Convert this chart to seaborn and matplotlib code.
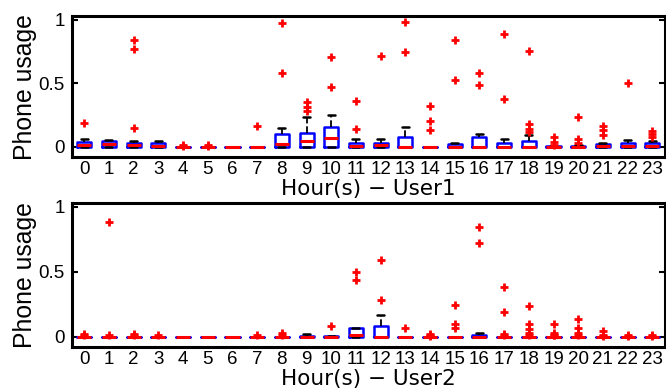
import matplotlib
matplotlib.use("Agg")
import matplotlib.pyplot as plt
import pandas as pd
import seaborn as sns

# Hour of day (x categories) and y tick labels
hours = list(range(24))
ytick_values = [0, 0.5, 1]
ytick_labels = ["0", "0.5", "1"]

# Daily phone-usage fraction observed in each hour, user 1
user1_usage = {
    0: [0, 0, 0, 0, 0, 0, 0.005, 0.01, 0.01, 0.012, 0.015, 0.02, 0.025, 0.03, 0.035, 0.04, 0.045, 0.05, 0.05, 0.06, 0.19],
    1: [0, 0, 0, 0, 0, 0, 0.01, 0.015, 0.02, 0.02, 0.025, 0.03, 0.035, 0.04, 0.045, 0.05, 0.05, 0.05, 0.052, 0.054, 0.055],
    2: [0, 0, 0, 0, 0, 0, 0.003, 0.005, 0.008, 0.01, 0.012, 0.015, 0.02, 0.025, 0.03, 0.035, 0.04, 0.045, 0.15, 0.77, 0.84],
    3: [0, 0, 0, 0, 0, 0, 0.002, 0.004, 0.006, 0.008, 0.01, 0.015, 0.02, 0.025, 0.03, 0.035, 0.038, 0.04, 0.045, 0.048, 0.05],
    4: [0, 0, 0, 0, 0, 0, 0, 0, 0, 0, 0, 0, 0, 0, 0, 0, 0, 0, 0, 0.008, 0.012],
    5: [0, 0, 0, 0, 0, 0, 0, 0, 0, 0, 0, 0, 0, 0, 0, 0, 0, 0, 0, 0.007, 0.012],
    6: [0, 0, 0, 0, 0, 0, 0, 0, 0, 0, 0, 0, 0, 0, 0, 0, 0, 0, 0, 0, 0],
    7: [0, 0, 0, 0, 0, 0, 0, 0, 0, 0, 0, 0, 0, 0, 0, 0, 0, 0, 0, 0, 0.165],
    8: [0, 0, 0, 0, 0, 0, 0.005, 0.01, 0.012, 0.015, 0.02, 0.03, 0.05, 0.07, 0.09, 0.10, 0.12, 0.14, 0.15, 0.585, 0.975],
    9: [0, 0, 0, 0, 0, 0, 0.01, 0.02, 0.03, 0.04, 0.05, 0.06, 0.07, 0.08, 0.1, 0.11, 0.15, 0.235, 0.285, 0.315, 0.35],
    10: [0, 0, 0, 0, 0, 0, 0.01, 0.03, 0.05, 0.06, 0.07, 0.09, 0.11, 0.13, 0.15, 0.16, 0.18, 0.2, 0.25, 0.47, 0.71],
    11: [0, 0, 0, 0, 0, 0, 0.001, 0.002, 0.003, 0.004, 0.005, 0.01, 0.015, 0.02, 0.025, 0.03, 0.035, 0.04, 0.06, 0.14, 0.365],
    12: [0, 0, 0, 0, 0, 0, 0.002, 0.004, 0.006, 0.01, 0.012, 0.015, 0.02, 0.025, 0.03, 0.035, 0.04, 0.045, 0.05, 0.06, 0.715],
    13: [0, 0, 0, 0, 0, 0, 0, 0, 0, 0, 0, 0.01, 0.03, 0.05, 0.07, 0.08, 0.1, 0.12, 0.155, 0.745, 0.98],
    14: [0, 0, 0, 0, 0, 0, 0, 0, 0, 0, 0, 0, 0, 0, 0, 0, 0, 0, 0.13, 0.205, 0.32],
    15: [0, 0, 0, 0, 0, 0, 0, 0, 0, 0, 0, 0.005, 0.01, 0.012, 0.015, 0.02, 0.022, 0.025, 0.03, 0.525, 0.84],
    16: [0, 0, 0, 0, 0, 0, 0, 0, 0, 0, 0, 0.01, 0.03, 0.05, 0.07, 0.08, 0.085, 0.09, 0.1, 0.49, 0.58],
    17: [0, 0, 0, 0, 0, 0, 0, 0, 0, 0, 0, 0.005, 0.01, 0.02, 0.025, 0.03, 0.04, 0.05, 0.065, 0.38, 0.885],
    18: [0, 0, 0, 0, 0, 0, 0, 0, 0, 0, 0, 0.005, 0.015, 0.025, 0.035, 0.045, 0.095, 0.115, 0.145, 0.18, 0.755],
    19: [0, 0, 0, 0, 0, 0, 0, 0, 0, 0, 0, 0.001, 0.002, 0.003, 0.003, 0.004, 0.005, 0.006, 0.012, 0.04, 0.075],
    20: [0, 0, 0, 0, 0, 0, 0, 0, 0, 0, 0, 0.002, 0.004, 0.006, 0.008, 0.01, 0.012, 0.015, 0.035, 0.06, 0.235],
    21: [0, 0, 0, 0, 0, 0, 0.001, 0.002, 0.003, 0.004, 0.005, 0.008, 0.01, 0.015, 0.018, 0.02, 0.025, 0.03, 0.095, 0.13, 0.165],
    22: [0, 0, 0, 0, 0, 0, 0.002, 0.004, 0.006, 0.008, 0.01, 0.015, 0.02, 0.025, 0.03, 0.035, 0.04, 0.045, 0.05, 0.055, 0.505],
    23: [0, 0, 0, 0, 0, 0, 0.002, 0.004, 0.006, 0.008, 0.01, 0.015, 0.02, 0.025, 0.028, 0.03, 0.04, 0.045, 0.08, 0.1, 0.125],
}

# Daily phone-usage fraction observed in each hour, user 2
user2_usage = {
    0: [0, 0, 0, 0, 0, 0, 0, 0, 0, 0, 0, 0, 0, 0, 0, 0, 0, 0, 0, 0.01, 0.02],
    1: [0, 0, 0, 0, 0, 0, 0, 0, 0, 0, 0, 0, 0, 0, 0, 0, 0, 0, 0, 0.01, 0.88],
    2: [0, 0, 0, 0, 0, 0, 0, 0, 0, 0, 0, 0, 0, 0, 0, 0, 0, 0, 0, 0.01, 0.02],
    3: [0, 0, 0, 0, 0, 0, 0, 0, 0, 0, 0, 0, 0, 0, 0, 0, 0, 0, 0, 0, 0.01],
    4: [0, 0, 0, 0, 0, 0, 0, 0, 0, 0, 0, 0, 0, 0, 0, 0, 0, 0, 0, 0, 0],
    5: [0, 0, 0, 0, 0, 0, 0, 0, 0, 0, 0, 0, 0, 0, 0, 0, 0, 0, 0, 0, 0],
    6: [0, 0, 0, 0, 0, 0, 0, 0, 0, 0, 0, 0, 0, 0, 0, 0, 0, 0, 0, 0, 0],
    7: [0, 0, 0, 0, 0, 0, 0, 0, 0, 0, 0, 0, 0, 0, 0, 0, 0, 0, 0, 0, 0.01],
    8: [0, 0, 0, 0, 0, 0, 0, 0, 0, 0, 0, 0, 0, 0, 0, 0, 0, 0, 0, 0.01, 0.025],
    9: [0, 0, 0, 0, 0, 0, 0, 0, 0, 0, 0, 0.002, 0.004, 0.005, 0.006, 0.008, 0.01, 0.015, 0.018, 0.019, 0.02],
    10: [0, 0, 0, 0, 0, 0, 0, 0, 0, 0, 0, 0.001, 0.002, 0.003, 0.004, 0.005, 0.005, 0.005, 0.006, 0.007, 0.083],
    11: [0, 0, 0, 0, 0, 0, 0.003, 0.006, 0.009, 0.011, 0.013, 0.02, 0.03, 0.045, 0.055, 0.065, 0.065, 0.065, 0.065, 0.435, 0.5],
    12: [0, 0, 0, 0, 0, 0, 0, 0, 0, 0, 0, 0.01, 0.03, 0.05, 0.07, 0.085, 0.1, 0.13, 0.17, 0.285, 0.587],
    13: [0, 0, 0, 0, 0, 0, 0, 0, 0, 0, 0, 0, 0, 0, 0, 0, 0, 0, 0, 0, 0.065],
    14: [0, 0, 0, 0, 0, 0, 0, 0, 0, 0, 0, 0, 0, 0, 0, 0, 0, 0, 0.005, 0.01, 0.02],
    15: [0, 0, 0, 0, 0, 0, 0, 0, 0, 0, 0, 0, 0, 0, 0, 0, 0, 0, 0.064, 0.10, 0.245],
    16: [0, 0, 0, 0, 0, 0, 0, 0, 0, 0, 0, 0.002, 0.005, 0.008, 0.01, 0.012, 0.015, 0.02, 0.028, 0.72, 0.845],
    17: [0, 0, 0, 0, 0, 0, 0, 0, 0, 0, 0, 0, 0, 0, 0, 0, 0, 0.01, 0.02, 0.19, 0.38],
    18: [0, 0, 0, 0, 0, 0, 0, 0, 0, 0, 0, 0, 0, 0, 0, 0, 0.01, 0.03, 0.06, 0.10, 0.24],
    19: [0, 0, 0, 0, 0, 0, 0, 0, 0, 0, 0, 0, 0, 0, 0, 0, 0, 0.01, 0.015, 0.03, 0.095],
    20: [0, 0, 0, 0, 0, 0, 0, 0, 0, 0, 0, 0, 0, 0, 0, 0, 0, 0.01, 0.03, 0.065, 0.14],
    21: [0, 0, 0, 0, 0, 0, 0, 0, 0, 0, 0, 0, 0, 0, 0, 0, 0, 0, 0.005, 0.01, 0.045],
    22: [0, 0, 0, 0, 0, 0, 0, 0, 0, 0, 0, 0, 0, 0, 0, 0, 0, 0, 0, 0.005, 0.015],
    23: [0, 0, 0, 0, 0, 0, 0, 0, 0, 0, 0, 0, 0, 0, 0, 0, 0, 0, 0, 0.005, 0.012],
}

panel_labels = ["Hour(s) \u2212 User1", "Hour(s) \u2212 User2"]
y_label = "Phone usage"

sns.set_theme(style="white")
plt.rcParams["font.family"] = ["Liberation Sans", "DejaVu Sans"]


def to_long(usage):
    rows = [(h, v) for h in hours for v in usage[h]]
    return pd.DataFrame(rows, columns=["hour", "usage"])


fig = plt.figure(figsize=(6.66, 3.9), dpi=100)
ax_top = fig.add_axes([0.108, 0.597, 0.890, 0.362])
ax_bot = fig.add_axes([0.108, 0.110, 0.890, 0.370])

for ax, usage, xlabel in zip([ax_top, ax_bot], [user1_usage, user2_usage], panel_labels):
    sns.boxplot(
        data=to_long(usage), x="hour", y="usage", order=hours, ax=ax,
        width=0.57, fill=False, whis=1.5, linewidth=1.8,
        boxprops=dict(color="blue", linewidth=1.8),
        medianprops=dict(color="red", linewidth=2.2),
        whiskerprops=dict(color="black", linewidth=1.3, linestyle="--"),
        capprops=dict(color="black", linewidth=1.8),
        flierprops=dict(marker="+", markeredgecolor="red", markerfacecolor="red",
                        markersize=6, markeredgewidth=2.0),
    )
    ax.set_xlim(-0.5, 23.5)
    ax.set_ylim(-0.08, 1.03)
    ax.set_yticks(ytick_values)
    ax.set_yticklabels(ytick_labels)
    ax.set_xticks(range(len(hours)))
    ax.set_xticklabels([str(h) for h in hours])
    ax.tick_params(axis="y", direction="in", length=4, width=1.5,
                   left=True, right=True, labelsize=13.5, pad=5, colors="black")
    ax.tick_params(axis="x", length=0, labelsize=13.5, pad=2.5, colors="black")
    for side in ["left", "right", "top", "bottom"]:
        ax.spines[side].set_visible(True)
        ax.spines[side].set_linewidth(2.2)
        ax.spines[side].set_color("black")
    ax.set_xlabel(xlabel, fontsize=15.5, color="black", family=["DejaVu Sans"])
    ax.xaxis.set_label_coords(0.5, -0.153)
    ax.set_ylabel(y_label, fontsize=17.8, labelpad=1, color="black")
    ax.grid(False)

fig.savefig("out.png", dpi=100)
